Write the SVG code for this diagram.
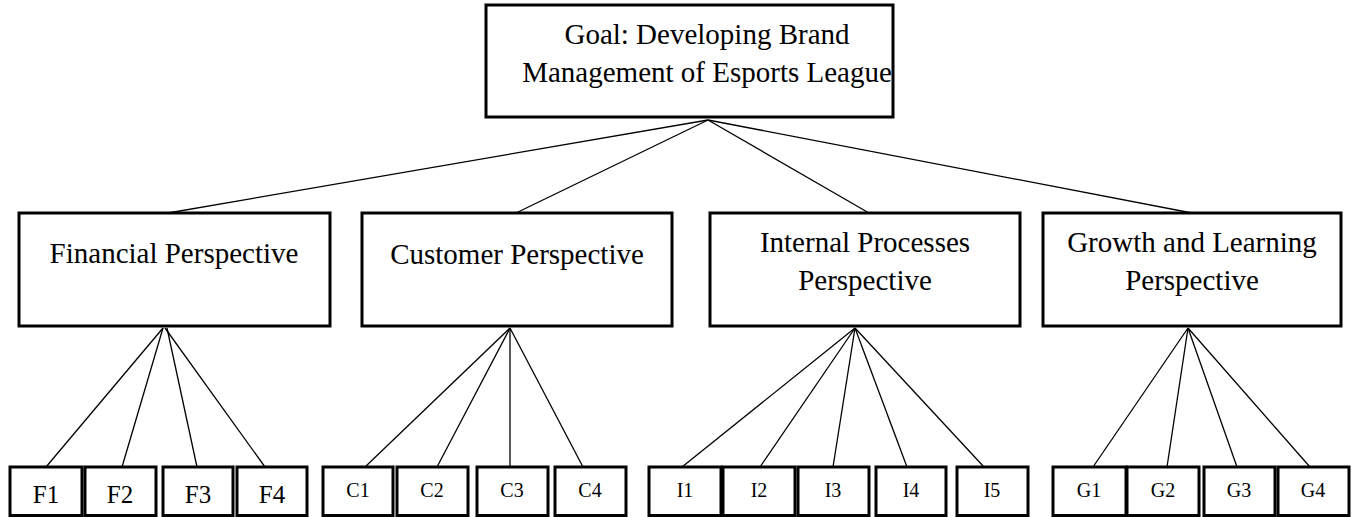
<svg xmlns="http://www.w3.org/2000/svg" width="1356" height="517" viewBox="0 0 1356 517">
  <style>
    .box { fill: #ffffff; stroke: #000000; stroke-width: 3; }
    .lbl { font-family: "Liberation Serif", "Times New Roman", serif; fill: #000000; text-anchor: middle; }
    .big { font-size: 29px; }
    .fl { font-size: 25px; }
    .sm { font-size: 20px; }
    .link { stroke: #000000; stroke-width: 1.3; fill: none; }
  </style>
  <rect width="1356" height="517" fill="#ffffff"/>

  <!-- connectors -->
  <g id="connectors">
    <line class="link" x1="708" y1="120" x2="168" y2="213"/>
    <line class="link" x1="708" y1="120" x2="516" y2="213"/>
    <line class="link" x1="708" y1="120" x2="869" y2="213"/>
    <line class="link" x1="708" y1="120" x2="1192" y2="213"/>

    <line class="link" x1="163" y1="328" x2="46" y2="467"/>
    <line class="link" x1="163" y1="328" x2="122" y2="467"/>
    <line class="link" x1="167" y1="328" x2="197" y2="467"/>
    <line class="link" x1="165" y1="328" x2="265" y2="467"/>

    <line class="link" x1="510" y1="328" x2="365" y2="467"/>
    <line class="link" x1="510" y1="328" x2="437" y2="467"/>
    <line class="link" x1="510" y1="328" x2="510" y2="467"/>
    <line class="link" x1="510" y1="328" x2="583" y2="467"/>

    <line class="link" x1="855" y1="328" x2="682" y2="467"/>
    <line class="link" x1="855" y1="328" x2="760" y2="467"/>
    <line class="link" x1="855" y1="328" x2="833" y2="467"/>
    <line class="link" x1="855" y1="328" x2="907" y2="467"/>
    <line class="link" x1="855" y1="328" x2="984" y2="467"/>

    <line class="link" x1="1188" y1="328" x2="1093" y2="467"/>
    <line class="link" x1="1188" y1="328" x2="1167" y2="467"/>
    <line class="link" x1="1188" y1="328" x2="1237" y2="467"/>
    <line class="link" x1="1188" y1="328" x2="1310" y2="467"/>
  </g>

  <!-- goal -->
  <g id="goal">
    <rect class="box" x="486" y="5" width="407" height="112"/>
    <text class="lbl big" x="707" y="44">Goal: Developing Brand</text>
    <text class="lbl big" x="707" y="82">Management of Esports League</text>
  </g>

  <!-- perspectives -->
  <g id="financial">
    <rect class="box" x="19" y="213" width="311" height="113"/>
    <text class="lbl big" x="174" y="263">Financial Perspective</text>
  </g>
  <g id="customer">
    <rect class="box" x="362" y="213" width="310" height="113"/>
    <text class="lbl big" x="517" y="264">Customer Perspective</text>
  </g>
  <g id="internal">
    <rect class="box" x="710" y="213" width="310" height="113"/>
    <text class="lbl big" x="865" y="252">Internal Processes</text>
    <text class="lbl big" x="865" y="290">Perspective</text>
  </g>
  <g id="growth">
    <rect class="box" x="1043" y="213" width="298" height="113"/>
    <text class="lbl big" x="1192" y="252">Growth and Learning</text>
    <text class="lbl big" x="1192" y="290">Perspective</text>
  </g>

  <!-- financial measures -->
  <g id="F1"><rect class="box" x="10" y="467" width="72" height="48.5"/><text class="lbl fl" x="46" y="503">F1</text></g>
  <g id="F2"><rect class="box" x="85" y="467" width="71" height="48.5"/><text class="lbl fl" x="120" y="503">F2</text></g>
  <g id="F3"><rect class="box" x="163" y="467" width="70" height="48.5"/><text class="lbl fl" x="198" y="503">F3</text></g>
  <g id="F4"><rect class="box" x="237" y="467" width="70" height="48.5"/><text class="lbl fl" x="272" y="503">F4</text></g>

  <!-- customer measures -->
  <g id="C1"><rect class="box" x="323" y="467" width="70" height="48.5"/><text class="lbl sm" x="358" y="497">C1</text></g>
  <g id="C2"><rect class="box" x="397" y="467" width="71" height="48.5"/><text class="lbl sm" x="432" y="497">C2</text></g>
  <g id="C3"><rect class="box" x="477" y="467" width="71" height="48.5"/><text class="lbl sm" x="512" y="497">C3</text></g>
  <g id="C4"><rect class="box" x="555" y="467" width="71" height="48.5"/><text class="lbl sm" x="590" y="497">C4</text></g>

  <!-- internal process measures -->
  <g id="I1"><rect class="box" x="649" y="467" width="72" height="48.5"/><text class="lbl sm" x="685" y="497">I1</text></g>
  <g id="I2"><rect class="box" x="723" y="467" width="72" height="48.5"/><text class="lbl sm" x="759" y="497">I2</text></g>
  <g id="I3"><rect class="box" x="798" y="467" width="71" height="48.5"/><text class="lbl sm" x="833" y="497">I3</text></g>
  <g id="I4"><rect class="box" x="876" y="467" width="70" height="48.5"/><text class="lbl sm" x="911" y="497">I4</text></g>
  <g id="I5"><rect class="box" x="957" y="467" width="71" height="48.5"/><text class="lbl sm" x="992" y="497">I5</text></g>

  <!-- growth and learning measures -->
  <g id="G1"><rect class="box" x="1053" y="467" width="73" height="48.5"/><text class="lbl sm" x="1089" y="497">G1</text></g>
  <g id="G2"><rect class="box" x="1127" y="467" width="72" height="48.5"/><text class="lbl sm" x="1163" y="497">G2</text></g>
  <g id="G3"><rect class="box" x="1204" y="467" width="71" height="48.5"/><text class="lbl sm" x="1239" y="497">G3</text></g>
  <g id="G4"><rect class="box" x="1278" y="467" width="71" height="48.5"/><text class="lbl sm" x="1313" y="497">G4</text></g>
</svg>
